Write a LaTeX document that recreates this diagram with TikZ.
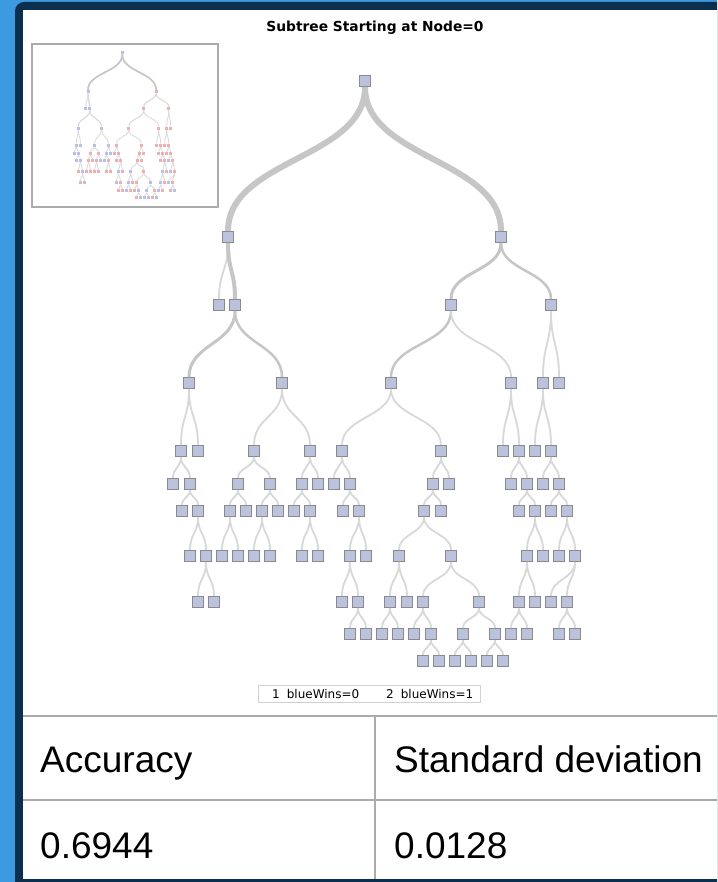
\documentclass[tikz,border=0pt]{standalone}
\usepackage{fontspec}
\setmainfont{Liberation Sans}
\newfontfamily\dejavu{DejaVu Sans}
\usetikzlibrary{calc}
\definecolor{bgblue}{HTML}{3C9BE0}
\definecolor{navy}{HTML}{0B2F4C}
\definecolor{boxfill}{HTML}{BAC2DE}
\definecolor{boxline}{HTML}{8A8A8A}
\definecolor{linkgray}{HTML}{C6C6C6}
\definecolor{linklight}{HTML}{D8D8D8}
\definecolor{thumbblue}{HTML}{B8BFEA}
\definecolor{thumbred}{HTML}{F0AEAE}
\definecolor{rulegray}{HTML}{ABABAB}
\definecolor{keygray}{HTML}{D0D0D0}
\tikzset{
  box/.style={draw=boxline, fill=boxfill, line width=1pt, minimum size=11pt, inner sep=0pt},
  mini/.style={draw=none, minimum size=3pt, inner sep=0pt},
  link/.style={draw=linklight, to path={.. controls ($(\tikztostart)!.5!(\tikztostart|-\tikztotarget)$) and ($(\tikztotarget)!.5!(\tikztotarget|-\tikztostart)$) .. (\tikztotarget)}},
  cell/.style={anchor=base west, inner sep=0pt, font=\fontsize{37}{40}\selectfont},
}
\newcommand{\subtree}[1]{%
\node[cb] (#1n0) at (365,81) {};
\node[cb] (#1n1) at (228,237) {};
\node[cr] (#1n2) at (501,237) {};
\node[cb] (#1n3) at (219,305) {};
\node[cb] (#1n4) at (235,305) {};
\node[cr] (#1n5) at (451,305) {};
\node[cr] (#1n6) at (551,305) {};
\node[cb] (#1n7) at (189,383) {};
\node[cb] (#1n8) at (282,383) {};
\node[cr] (#1n9) at (391,383) {};
\node[cr] (#1n10) at (511,383) {};
\node[cr] (#1n11) at (543,383) {};
\node[cr] (#1n12) at (559,383) {};
\node[cb] (#1n13) at (181,451) {};
\node[cb] (#1n14) at (198,451) {};
\node[cb] (#1n15) at (254,451) {};
\node[cb] (#1n16) at (310,451) {};
\node[cr] (#1n17) at (342,451) {};
\node[cr] (#1n18) at (441,451) {};
\node[cr] (#1n19) at (503,451) {};
\node[cr] (#1n20) at (519,451) {};
\node[cr] (#1n21) at (535,451) {};
\node[cr] (#1n22) at (551,451) {};
\node[cb] (#1n23) at (173,484) {};
\node[cb] (#1n24) at (190,484) {};
\node[cr] (#1n25) at (238,484) {};
\node[cr] (#1n26) at (270,484) {};
\node[cb] (#1n27) at (302,484) {};
\node[cb] (#1n28) at (318,484) {};
\node[cr] (#1n29) at (334,484) {};
\node[cr] (#1n30) at (350,484) {};
\node[cr] (#1n31) at (433,484) {};
\node[cr] (#1n32) at (449,484) {};
\node[cr] (#1n33) at (511,484) {};
\node[cr] (#1n34) at (527,484) {};
\node[cr] (#1n35) at (543,484) {};
\node[cr] (#1n36) at (559,484) {};
\node[cb] (#1n37) at (182,511) {};
\node[cb] (#1n38) at (198,511) {};
\node[cr] (#1n39) at (230,511) {};
\node[cr] (#1n40) at (246,511) {};
\node[cr] (#1n41) at (262,511) {};
\node[cb] (#1n42) at (278,511) {};
\node[cb] (#1n43) at (294,511) {};
\node[cr] (#1n44) at (310,511) {};
\node[cr] (#1n45) at (343,511) {};
\node[cr] (#1n46) at (359,511) {};
\node[cr] (#1n47) at (424,511) {};
\node[cr] (#1n48) at (441,511) {};
\node[cr] (#1n49) at (519,511) {};
\node[cr] (#1n50) at (535,511) {};
\node[cb] (#1n51) at (551,511) {};
\node[cr] (#1n52) at (567,511) {};
\node[cr] (#1n53) at (190,556) {};
\node[cb] (#1n54) at (206,556) {};
\node[cr] (#1n55) at (222,556) {};
\node[cr] (#1n56) at (238,556) {};
\node[cr] (#1n57) at (254,556) {};
\node[cr] (#1n58) at (270,556) {};
\node[cr] (#1n59) at (302,556) {};
\node[cr] (#1n60) at (318,556) {};
\node[cb] (#1n61) at (350,556) {};
\node[cr] (#1n62) at (366,556) {};
\node[cb] (#1n63) at (399,556) {};
\node[cr] (#1n64) at (451,556) {};
\node[cb] (#1n65) at (527,556) {};
\node[cr] (#1n66) at (543,556) {};
\node[cb] (#1n67) at (559,556) {};
\node[cr] (#1n68) at (575,556) {};
\node[cr] (#1n69) at (198,602) {};
\node[cb] (#1n70) at (214,602) {};
\node[cb] (#1n71) at (342,602) {};
\node[cr] (#1n72) at (358,602) {};
\node[cb] (#1n73) at (390,602) {};
\node[cr] (#1n74) at (407,602) {};
\node[cr] (#1n75) at (423,602) {};
\node[cb] (#1n76) at (479,602) {};
\node[cb] (#1n77) at (519,602) {};
\node[cr] (#1n78) at (535,602) {};
\node[cb] (#1n79) at (551,602) {};
\node[cr] (#1n80) at (567,602) {};
\node[cr] (#1n81) at (350,634) {};
\node[cr] (#1n82) at (366,634) {};
\node[cb] (#1n83) at (382,634) {};
\node[cr] (#1n84) at (398,634) {};
\node[cr] (#1n85) at (414,634) {};
\node[cb] (#1n86) at (431,634) {};
\node[cb] (#1n87) at (463,634) {};
\node[cr] (#1n88) at (495,634) {};
\node[cb] (#1n89) at (511,634) {};
\node[cr] (#1n90) at (527,634) {};
\node[cr] (#1n91) at (559,634) {};
\node[cb] (#1n92) at (575,634) {};
\node[cr] (#1n93) at (423,661) {};
\node[cb] (#1n94) at (439,661) {};
\node[cb] (#1n95) at (455,661) {};
\node[cb] (#1n96) at (471,661) {};
\node[cr] (#1n97) at (487,661) {};
\node[cb] (#1n98) at (503,661) {};
\draw[link,w6] (#1n0) to (#1n1);
\draw[link,w6] (#1n0) to (#1n2);
\draw[link,w1] (#1n1) to (#1n3);
\draw[link,w4] (#1n1) to (#1n4);
\draw[link,w3] (#1n2) to (#1n5);
\draw[link,w2] (#1n2) to (#1n6);
\draw[link,w3] (#1n4) to (#1n7);
\draw[link,w2] (#1n4) to (#1n8);
\draw[link,w2] (#1n5) to (#1n9);
\draw[link,w1] (#1n5) to (#1n10);
\draw[link,w1] (#1n6) to (#1n11);
\draw[link,w1] (#1n6) to (#1n12);
\draw[link,w1] (#1n7) to (#1n13);
\draw[link,w1] (#1n7) to (#1n14);
\draw[link,w1] (#1n8) to (#1n15);
\draw[link,w1] (#1n8) to (#1n16);
\draw[link,w1] (#1n9) to (#1n17);
\draw[link,w1] (#1n9) to (#1n18);
\draw[link,w1] (#1n10) to (#1n19);
\draw[link,w1] (#1n10) to (#1n20);
\draw[link,w1] (#1n11) to (#1n21);
\draw[link,w1] (#1n11) to (#1n22);
\draw[link,w1] (#1n13) to (#1n23);
\draw[link,w1] (#1n13) to (#1n24);
\draw[link,w1] (#1n15) to (#1n25);
\draw[link,w1] (#1n15) to (#1n26);
\draw[link,w1] (#1n16) to (#1n27);
\draw[link,w1] (#1n16) to (#1n28);
\draw[link,w1] (#1n17) to (#1n29);
\draw[link,w1] (#1n17) to (#1n30);
\draw[link,w1] (#1n18) to (#1n31);
\draw[link,w1] (#1n18) to (#1n32);
\draw[link,w1] (#1n20) to (#1n33);
\draw[link,w1] (#1n20) to (#1n34);
\draw[link,w1] (#1n22) to (#1n35);
\draw[link,w1] (#1n22) to (#1n36);
\draw[link,w1] (#1n24) to (#1n37);
\draw[link,w1] (#1n24) to (#1n38);
\draw[link,w1] (#1n25) to (#1n39);
\draw[link,w1] (#1n25) to (#1n40);
\draw[link,w1] (#1n26) to (#1n41);
\draw[link,w1] (#1n26) to (#1n42);
\draw[link,w1] (#1n27) to (#1n43);
\draw[link,w1] (#1n27) to (#1n44);
\draw[link,w1] (#1n30) to (#1n45);
\draw[link,w1] (#1n30) to (#1n46);
\draw[link,w1] (#1n31) to (#1n47);
\draw[link,w1] (#1n31) to (#1n48);
\draw[link,w1] (#1n34) to (#1n49);
\draw[link,w1] (#1n34) to (#1n50);
\draw[link,w1] (#1n36) to (#1n51);
\draw[link,w1] (#1n36) to (#1n52);
\draw[link,w1] (#1n38) to (#1n53);
\draw[link,w1] (#1n38) to (#1n54);
\draw[link,w1] (#1n39) to (#1n55);
\draw[link,w1] (#1n39) to (#1n56);
\draw[link,w1] (#1n41) to (#1n57);
\draw[link,w1] (#1n41) to (#1n58);
\draw[link,w1] (#1n44) to (#1n59);
\draw[link,w1] (#1n44) to (#1n60);
\draw[link,w1] (#1n46) to (#1n61);
\draw[link,w1] (#1n46) to (#1n62);
\draw[link,w1] (#1n47) to (#1n63);
\draw[link,w1] (#1n47) to (#1n64);
\draw[link,w1] (#1n50) to (#1n65);
\draw[link,w1] (#1n50) to (#1n66);
\draw[link,w1] (#1n52) to (#1n67);
\draw[link,w1] (#1n52) to (#1n68);
\draw[link,w1] (#1n54) to (#1n69);
\draw[link,w1] (#1n54) to (#1n70);
\draw[link,w1] (#1n61) to (#1n71);
\draw[link,w1] (#1n61) to (#1n72);
\draw[link,w1] (#1n63) to (#1n73);
\draw[link,w1] (#1n63) to (#1n74);
\draw[link,w1] (#1n64) to (#1n75);
\draw[link,w1] (#1n64) to (#1n76);
\draw[link,w1] (#1n65) to (#1n77);
\draw[link,w1] (#1n65) to (#1n78);
\draw[link,w1] (#1n68) to (#1n79);
\draw[link,w1] (#1n68) to (#1n80);
\draw[link,w1] (#1n72) to (#1n81);
\draw[link,w1] (#1n72) to (#1n82);
\draw[link,w1] (#1n73) to (#1n83);
\draw[link,w1] (#1n73) to (#1n84);
\draw[link,w1] (#1n75) to (#1n85);
\draw[link,w1] (#1n75) to (#1n86);
\draw[link,w1] (#1n76) to (#1n87);
\draw[link,w1] (#1n76) to (#1n88);
\draw[link,w1] (#1n77) to (#1n89);
\draw[link,w1] (#1n77) to (#1n90);
\draw[link,w1] (#1n80) to (#1n91);
\draw[link,w1] (#1n80) to (#1n92);
\draw[link,w1] (#1n86) to (#1n93);
\draw[link,w1] (#1n86) to (#1n94);
\draw[link,w1] (#1n87) to (#1n95);
\draw[link,w1] (#1n87) to (#1n96);
\draw[link,w1] (#1n88) to (#1n97);
\draw[link,w1] (#1n88) to (#1n98);
}
\begin{document}
\begin{tikzpicture}[x=1pt, y=-1pt]
\clip (0,0) rectangle (717,882);
\fill[bgblue] (0,0) rectangle (717,882);
\fill[navy, rounded corners=9pt] (15,2) rectangle (760,920);
\fill[white] (23,10) rectangle (717,879);
\node[font=\dejavu\bfseries\fontsize{13.8}{16}\selectfont] (title) at (375,28) {Subtree Starting at Node=0};
\draw[rulegray, line width=1.2pt] (32,44) rectangle (218,207);
\begin{scope}[cb/.style={box}, cr/.style={box},
  w1/.style={line width=1.8pt}, w2/.style={line width=2.5pt, draw=linkgray},
  w3/.style={line width=3pt, draw=linkgray}, w4/.style={line width=4pt, draw=linkgray},
  w6/.style={line width=6pt, draw=linkgray}]
\subtree{m}
\end{scope}
\begin{scope}[shift={(31,32.5)}, x=.25pt, y=-.25pt,
  cb/.style={mini, fill=thumbblue}, cr/.style={mini, fill=thumbred},
  w1/.style={line width=.8pt}, w2/.style={line width=1pt},
  w3/.style={line width=1.1pt}, w4/.style={line width=1.3pt},
  w6/.style={line width=1.7pt, draw=linkgray}]
\subtree{t}
\end{scope}
\node[draw=keygray, line width=1pt, minimum width=222pt, minimum height=17pt] (key) at (369.5,693.5) {};
\node[anchor=base west, inner sep=0pt, font=\dejavu\fontsize{12}{14}\selectfont] (key1) at (272,698) {1\hspace{7pt}blueWins=0};
\node[anchor=base west, inner sep=0pt, font=\dejavu\fontsize{12}{14}\selectfont] (key2) at (386,698) {2\hspace{7pt}blueWins=1};
\draw[rulegray, line width=1.5pt] (23,716) -- (717,716);
\draw[rulegray, line width=1.5pt] (23,800) -- (717,800);
\draw[rulegray, line width=1.5pt] (375,716) -- (375,879);
\node[cell] (acc) at (40,772) {Accuracy};
\node[cell] (sd) at (394,772) {Standard deviation};
\node[cell] (accval) at (40,858) {0.6944};
\node[cell] (sdval) at (394,858) {0.0128};
\end{tikzpicture}
\end{document}
